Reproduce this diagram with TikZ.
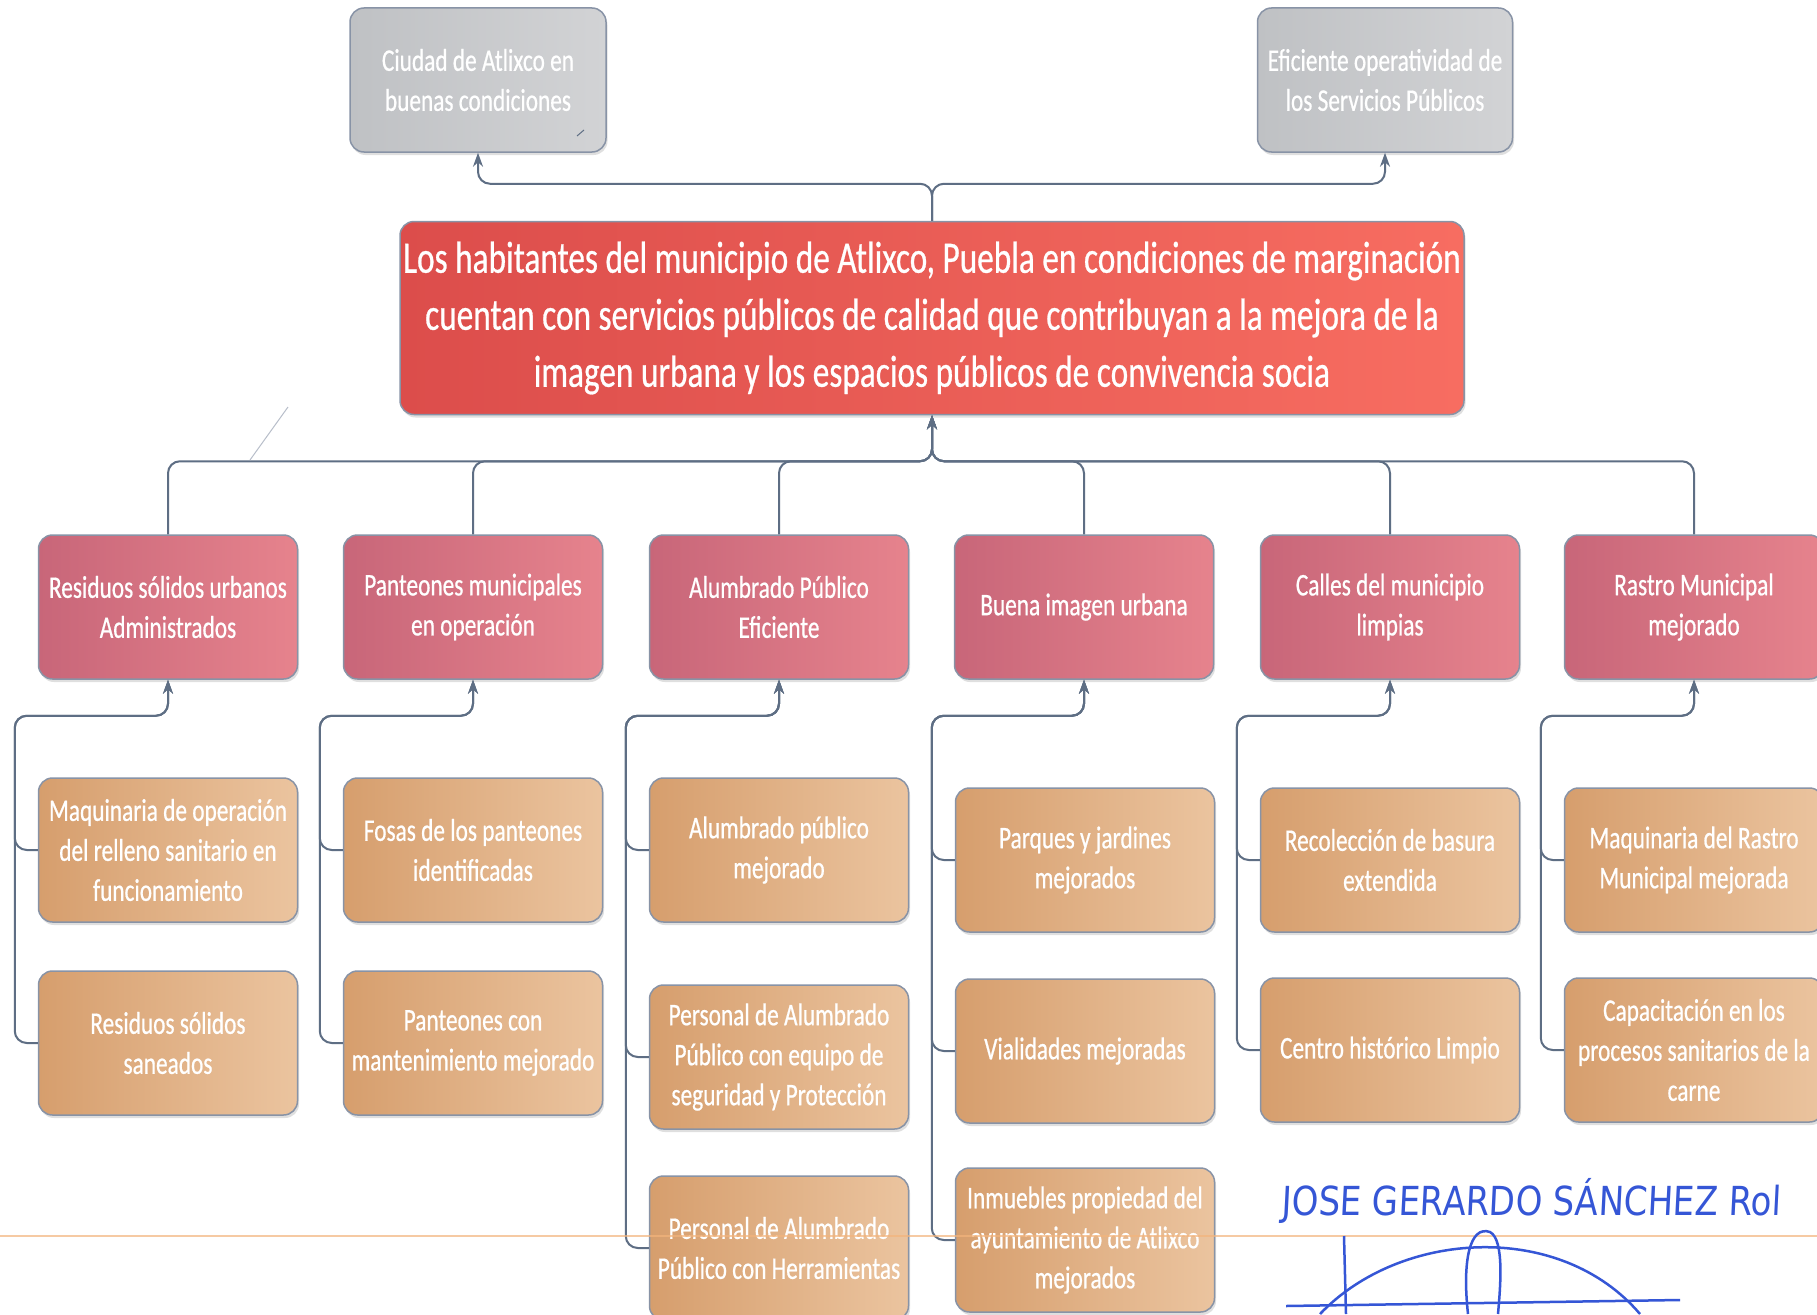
\documentclass[tikz,border=0pt]{standalone}
\usepackage{fontspec}
\setmainfont{Carlito}[FakeStretch=0.74,FakeBold=0.6]
\newfontfamily\handfont{DejaVu Sans}[FakeStretch=0.85,FakeSlant=0.05]
\usetikzlibrary{calc,arrows.meta,shadows}
\definecolor{conncol}{HTML}{5E6E84}
\definecolor{boxedge}{HTML}{8893A6}
\definecolor{grayL}{HTML}{BFC1C4}
\definecolor{grayR}{HTML}{D2D3D5}
\definecolor{catL}{HTML}{C86679}
\definecolor{catR}{HTML}{E6838D}
\definecolor{subL}{HTML}{D69E6D}
\definecolor{subR}{HTML}{EBC49F}
\definecolor{redL}{HTML}{DC4D4B}
\definecolor{redR}{HTML}{F76D61}
\definecolor{inkblue}{HTML}{3556D6}
\definecolor{scanorange}{HTML}{F3B47C}
\begin{document}
\begin{tikzpicture}[x=1pt,y=-1pt,
  box/.style={rounded corners=14pt, draw=boxedge, line width=1.5pt,
    minimum width=259pt, minimum height=144pt, align=center, text=white,
    font=\fontsize{31.5}{40}\selectfont, inner sep=2pt,
    drop shadow={opacity=0.25,shadow xshift=1.5pt,shadow yshift=-3pt}},
  graybox/.style={box, left color=grayL, right color=grayR},
  catbox/.style={box, left color=catL, right color=catR},
  subbox/.style={box, left color=subL, right color=subR},
  mainbox/.style={box, left color=redL, right color=redR,
    minimum width=1064pt, minimum height=193pt,
    font=\fontsize{45}{57}\selectfont},
  conn/.style={draw=conncol, line width=2pt, rounded corners=12pt},
  arr/.style={conn, -{Stealth[length=14pt,width=10pt]}}
]
\useasboundingbox (0,0) rectangle (1817,1314);
\clip (0,0) rectangle (1817,1314);
\fill[white] (0,0) rectangle (1817,1314);

% top outcome boxes
\node[graybox, minimum width=256pt] (g1) at (478,80) {Ciudad de Atlixco en\\buenas condiciones};
\node[graybox, minimum width=255pt] (g2) at (1385,80) {Eficiente operatividad de\\los Servicios Públicos};
\draw[conncol, line width=1pt] (577,136) -- (584,130);

% main box
\node[mainbox] (main) at (932,318) {Los habitantes del municipio de Atlixco, Puebla en condiciones de marginación\\cuentan con servicios públicos de calidad que contribuyan a la mejora de la\\imagen urbana y los espacios públicos de convivencia socia};

% categories
\node[catbox] (c1) at (168,607) {Residuos sólidos urbanos\\Administrados};
\node[catbox] (c2) at (473,607) {Panteones municipales\\en operación};
\node[catbox] (c3) at (779,607) {Alumbrado Público\\Eficiente};
\node[catbox] (c4) at (1084,607) {Buena imagen urbana};
\node[catbox] (c5) at (1390,607) {Calles del municipio\\limpias};
\node[catbox] (c6) at (1694,607) {Rastro Municipal\\mejorado};

% sub components
\node[subbox] (s1a) at (168,850) {Maquinaria de operación\\del relleno sanitario en\\funcionamiento};
\node[subbox] (s1b) at (168,1043) {Residuos sólidos\\saneados};
\node[subbox] (s2a) at (473,850) {Fosas de los panteones\\identificadas};
\node[subbox] (s2b) at (473,1043) {Panteones con\\mantenimiento mejorado};
\node[subbox] (s3a) at (779,850) {Alumbrado público\\mejorado};
\node[subbox] (s3b) at (779,1057) {Personal de Alumbrado\\Público con equipo de\\seguridad y Protección};
\node[subbox] (s3c) at (779,1248) {Personal de Alumbrado\\Público con Herramientas};
\node[subbox] (s4a) at (1085,860) {Parques y jardines\\mejorados};
\node[subbox] (s4b) at (1085,1051) {Vialidades mejoradas};
\node[subbox] (s4c) at (1085,1240) {Inmuebles propiedad del\\ayuntamiento de Atlixco\\mejorados};
\node[subbox] (s5a) at (1390,860) {Recolección de basura\\extendida};
\node[subbox] (s5b) at (1390,1050) {Centro histórico Limpio};
\node[subbox] (s6a) at (1694,860) {Maquinaria del Rastro\\Municipal mejorada};
\node[subbox] (s6b) at (1694,1050) {Capacitación en los\\procesos sanitarios de la\\carne};

% main -> outcomes
\draw[arr] (main.north) -- ++(0,-37) -| (g1.south);
\draw[arr] (main.north) -- ++(0,-37) -| (g2.south);

% categories -> main
\foreach \c in {c1,c2,c3,c4,c5,c6}
  \draw[arr] (\c.north) -- ++(0,-73) -| (main.south);

% sub components -> categories
\foreach \s/\c in {s1a/c1,s1b/c1,s2a/c2,s2b/c2,s3a/c3,s3b/c3,s3c/c3,
                   s4a/c4,s4b/c4,s4c/c4,s5a/c5,s5b/c5,s6a/c6,s6b/c6}
  \draw[arr] (\s.west) -- ++(-23,0) |- ($(\c.south)+(0,36)$) -- (\c.south);

% scan artefacts
\draw[boxedge!60, line width=1pt] (250,460) -- (288,407);
\draw[scanorange, opacity=0.7, line width=2pt] (0,1236) -- (1817,1236);

% handwritten name and signature
\node[anchor=south west, inner sep=0pt, text=inkblue, font=\handfont\fontsize{40}{40}\selectfont] (sig) at (1281,1224) {JOSE GERARDO SÁNCHEZ Rol};
\draw[inkblue, line width=2.5pt] (1286,1306) -- (1680,1300);
\draw[inkblue, line width=2.5pt] (1344,1236) -- (1346,1314);
\draw[inkblue, line width=2.5pt] (1320,1314) .. controls (1400,1230) and (1560,1220) .. (1640,1314);
\draw[inkblue, line width=2.5pt] (1468,1314) .. controls (1462,1260) and (1470,1225) .. (1490,1232) .. controls (1505,1240) and (1500,1290) .. (1498,1314);
\end{tikzpicture}
\end{document}
